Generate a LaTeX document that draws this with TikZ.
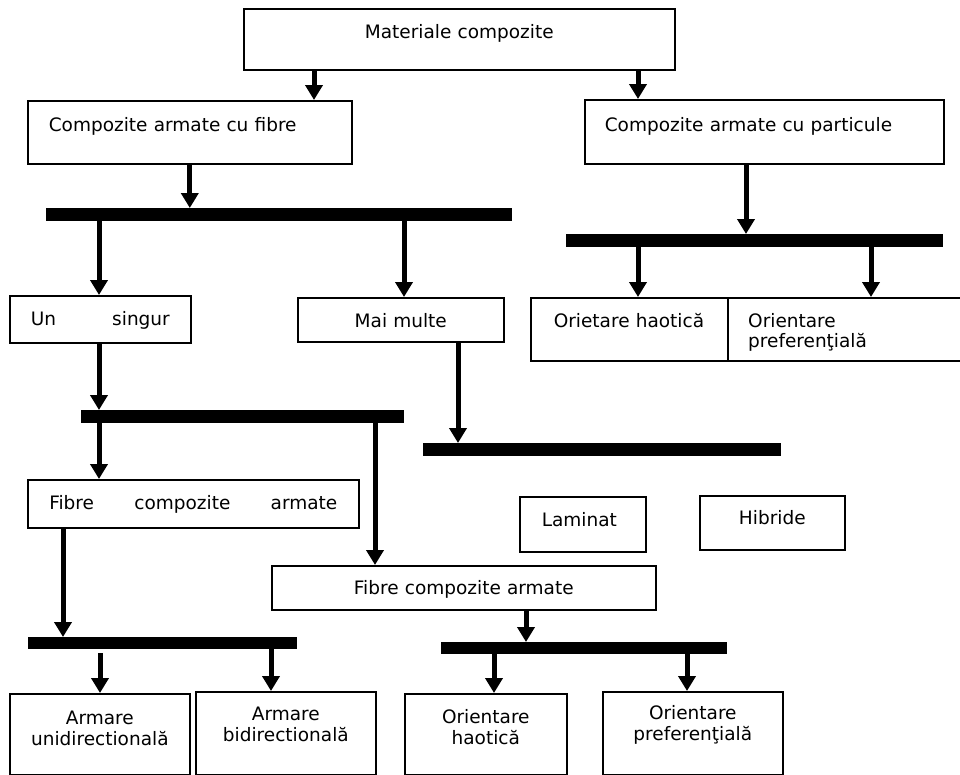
\documentclass[tikz,border=0pt]{standalone}
\usepackage{fontspec}
\setmainfont{DejaVu Sans}
\usetikzlibrary{arrows.meta}
\begin{document}
\begin{tikzpicture}[x=1pt, y=-1pt, font=\fontsize{18.5}{21}\selectfont,
		box/.style={draw, line width=1.6pt, inner sep=0pt, anchor=north west},
		bar/.style={fill=black, inner sep=0pt, anchor=north west, minimum height=13pt},
		arr/.style={line width=5pt, -{Triangle[width=17pt,length=15pt]}}]
	\useasboundingbox (0,0) rectangle (960,774);
	% casete
	\node[box, text width=431pt, align=center, text height=30pt, text depth=31pt] (mat) at (243,8) {Materiale compozite};
	\node[box, text width=324pt, align=left, text height=31pt, text depth=32pt] (fib) at (27,100) {\hspace*{21pt}Compozite armate cu fibre};
	\node[box, text width=359pt, align=left, text height=32pt, text depth=32pt] (part) at (584,99) {\hspace*{20pt}Compozite armate cu particule};
	\node[box, text width=139pt, inner xsep=21pt, text height=30pt, text depth=17pt] (un) at (9,295) {Un\hfill singur};
	\node[box, text width=206pt, align=center, text height=30pt, text depth=14pt] (mai) at (297,297) {Mai multe};
	\node[box, text width=197pt, align=left, text height=30pt, text depth=33pt] (oh1) at (530,297) {\hspace*{23pt}Orietare haotică};
	\node[box, minimum width=243pt, minimum height=63pt] (op1) at (727,297) {};
	\begin{scope}
		\clip (727,297) rectangle (970,350);
		\node[anchor=base west, inner sep=0pt] (op1a) at (748,327) {Orientare};
		\node[anchor=base west, inner sep=0pt] (op1b) at (748,347) {preferenţială};
	\end{scope}
	\node[box, text width=288pt, inner xsep=21.5pt, text height=30pt, text depth=18pt] (fca1) at (27,479) {Fibre\hfill compozite\hfill armate};
	\node[box, text width=384pt, align=center, text height=29pt, text depth=15pt] (fca2) at (271,565) {Fibre compozite armate};
	\node[box, text width=126pt, align=left, text height=30pt, text depth=25pt] (lam) at (519,496) {\hspace*{22pt}Laminat};
	\node[box, text width=145pt, align=center, text height=29pt, text depth=25pt] (hib) at (699,495) {Hibride};
	\node[box, text width=180pt, align=center, text height=31pt, text depth=50pt] (au) at (9,693) {Armare\\unidirectională};
	\node[box, text width=180pt, align=center, text height=29pt, text depth=54pt] (ab) at (195,691) {Armare\\bidirectională};
	\node[box, text width=162pt, align=center, text height=30pt, text depth=51pt] (oh2) at (404,693) {Orientare\\haotică};
	\node[box, text width=180pt, align=center, text height=28pt, text depth=55pt] (op2) at (602,691) {Orientare\\preferenţială};
	% bare
	\node[bar, minimum width=466pt] (b1) at (46,208) {};
	\node[bar, minimum width=377pt] (b2) at (566,234) {};
	\node[bar, minimum width=323pt] (b3) at (81,410) {};
	\node[bar, minimum width=358pt] (b4) at (423,443) {};
	\node[bar, minimum width=269pt, minimum height=12pt] (b5) at (28,637) {};
	\node[bar, minimum width=286pt, minimum height=12pt] (b6) at (441,642) {};
	% sageti
	\draw[arr] (314,0 |- mat.south) -- (314,0 |- fib.north);
	\draw[arr] (638,0 |- mat.south) -- (638,0 |- part.north);
	\draw[arr] (fib.south) -- (fib.south |- b1.north);
	\draw[arr] (746,0 |- part.south) -- (746,0 |- b2.north);
	\draw[arr] (99,0 |- b1.south) -- (99,0 |- un.north);
	\draw[arr] (404,0 |- b1.south) -- (404,0 |- mai.north);
	\draw[arr] (638,0 |- b2.south) -- (638,0 |- oh1.north);
	\draw[arr] (871,0 |- b2.south) -- (871,0 |- op1.north);
	\draw[arr] (99,0 |- un.south) -- (99,0 |- b3.north);
	\draw[arr] (458,0 |- mai.south) -- (458,0 |- b4.north);
	\draw[arr] (99,0 |- b3.south) -- (99,0 |- fca1.north);
	\draw[arr] (375,0 |- b3.south) -- (375,0 |- fca2.north);
	\draw[arr] (63,0 |- fca1.south) -- (63,0 |- b5.north);
	\draw[arr] (526,0 |- fca2.south) -- (526,0 |- b6.north);
	\draw[arr, shorten <=4pt] (100,0 |- b5.south) -- (100,0 |- au.north);
	\draw[arr] (271,0 |- b5.south) -- (271,0 |- ab.north);
	\draw[arr] (494,0 |- b6.south) -- (494,0 |- oh2.north);
	\draw[arr] (687,0 |- b6.south) -- (687,0 |- op2.north);
\end{tikzpicture}
\end{document}
